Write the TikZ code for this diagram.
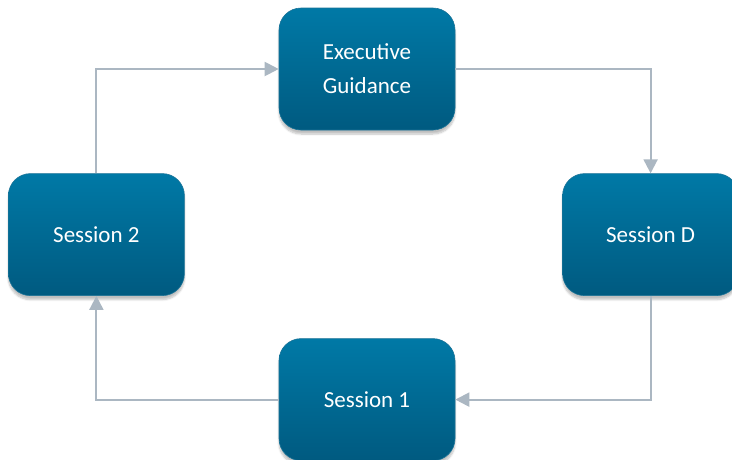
\documentclass[tikz,border=0pt]{standalone}
\usepackage{fontspec}
\setmainfont{Carlito}
\usetikzlibrary{positioning,arrows.meta,shadows.blur}

\definecolor{boxtop}{HTML}{0079A6}
\definecolor{boxbot}{HTML}{005A80}
\definecolor{boxedge}{HTML}{1A7397}
\definecolor{linkgrey}{HTML}{ABB7C2}

\tikzset{
  session/.style={rectangle, rounded corners=22pt,
    minimum width=176pt, minimum height=122pt,
    top color=boxtop, bottom color=boxbot, draw=boxedge, line width=0.6pt,
    text=white, align=center, font=\fontsize{23}{34}\selectfont,
    blur shadow={shadow xshift=0pt, shadow yshift=-4pt, shadow blur steps=6, shadow opacity=25}},
  link/.style={draw=linkgrey, line width=2pt, -{Triangle[length=14pt,width=14pt]}}
}

\begin{document}
\begin{tikzpicture}

  \useasboundingbox (0,0) rectangle (732pt,-459pt);

  % boxes
  \node[session] (guide) at (367pt,-69pt) {Executive\\Guidance}; %
  \node[session, below left=43pt and 94pt of guide]  (s2) {Session 2}; %
  \node[session, below right=43pt and 107pt of guide] (sd) {Session D}; %
  \node[session, below=208pt of guide] (s1) {Session 1}; %

  % links round the loop
  \draw[link] (s2) |- (guide); %
  \draw[link] (guide) -| (sd); %
  \draw[link] (sd) |- (s1); %
  \draw[link] (s1) -| (s2); %

\end{tikzpicture}
\end{document}
